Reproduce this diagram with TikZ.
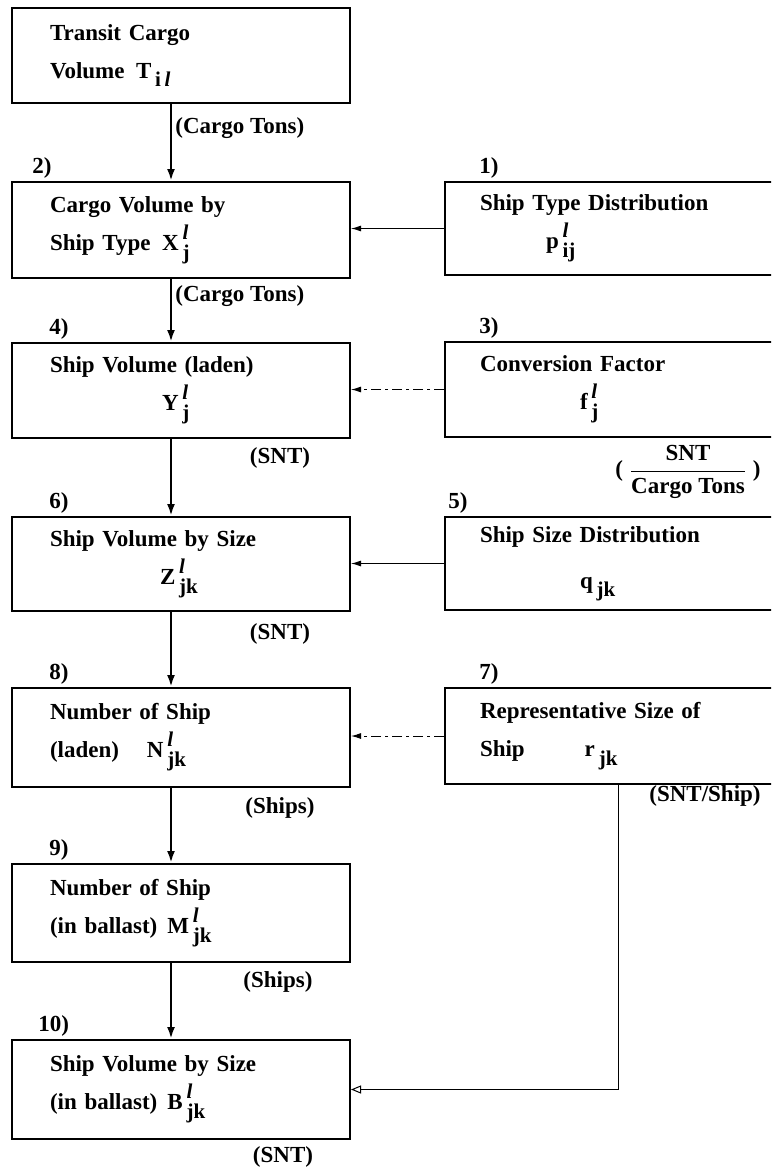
\documentclass[tikz,border=0pt]{standalone}
\usepackage{fontspec}
\setmainfont{Liberation Serif}
\usetikzlibrary{arrows.meta,positioning}

\newcommand{\scrsz}{\fontsize{10.5}{10.5}\selectfont}
\newcommand{\lj}[1]{\,\makebox[0pt][l]{\raisebox{1.05ex}{\scrsz\textit{l}}}\raisebox{-0.85ex}{\scrsz #1}}
\newcommand{\sj}[1]{\,\raisebox{-0.8ex}{\scrsz #1}}

\begin{document}
\begin{tikzpicture}[x=0.5pt,y=-0.5pt,
  every node/.style={font=\bfseries\fontsize{11.5}{19}\selectfont},
  lbox/.style={draw, line width=1pt, minimum width=169pt, text width=131pt, inner xsep=19pt, align=left},
  rbox/.style={draw, line width=1pt, minimum width=177.5pt, text width=142.5pt, inner xsep=17.5pt, align=left},
  num/.style={anchor=base west, inner sep=0pt},
  unit/.style={inner sep=1pt},
  flow/.style={line width=1.2pt, -{Latex[length=6pt,width=4pt]}},
  feed/.style={line width=0.5pt, -{Latex[length=5pt,width=3pt]}},
  feeddash/.style={feed, dash pattern=on 5pt off 2pt on 1.5pt off 2pt}]

\useasboundingbox (0,0) rectangle (771,1167);
\clip (0,0) rectangle (771,1167);

% Left column
\node[lbox, minimum height=47.5pt] (T) at (181,55.5) {Transit Cargo\\Volume \,T\sj{i\,\textit{l}}};
\node[lbox, minimum height=48pt] (X) at (181,230) {Cargo Volume by\\Ship Type \,X\lj{j}};
\node[lbox, minimum height=47.5pt] (Y) at (181,390.5) {Ship Volume (laden)\\\hspace*{56pt}Y\lj{j}};
\node[lbox, minimum height=47pt] (Z) at (181,564) {Ship Volume by Size\\\hspace*{55pt}Z\lj{jk}};
\node[lbox, minimum height=49.5pt] (N) at (181,737.5) {Number of Ship\\(laden)\hspace{14pt}N\lj{jk}};
\node[lbox, minimum height=49pt] (M) at (181,913) {Number of Ship\\(in ballast)\hspace{5pt}M\lj{jk}};
\node[lbox, minimum height=49.5pt] (B) at (181,1089.5) {Ship Volume by Size\\(in ballast)\hspace{5pt}B\lj{jk}};

% Right column
\node[rbox, minimum height=46.5pt] (p) at (622.5,228.5) {Ship Type Distribution\\\hspace*{33pt}p\lj{ij}};
\node[rbox, minimum height=47.5pt] (f) at (622.5,389.5) {Conversion Factor\\\hspace*{50pt}f\lj{j}};
\node[rbox, minimum height=46.5pt] (q) at (622.5,563.5) {Ship Size Distribution\\[4pt]\hspace*{50pt}q\sj{jk}};
\node[rbox, minimum height=48pt] (r) at (622.5,736) {Representative Size of\\Ship\hspace{30pt}r\sj{jk}};

% Step numbers
\node[num] (n1) at ([xshift=17.5pt,yshift=4pt]p.north west) {1)};
\node[num] (n2) at ([xshift=10.5pt,yshift=4pt]X.north west) {2)};
\node[num] (n3) at ([xshift=17.5pt,yshift=4pt]f.north west) {3)};
\node[num] (n4) at ([xshift=19pt,yshift=4pt]Y.north west) {4)};
\node[num] (n5) at ([xshift=2pt,yshift=4pt]q.north west) {5)};
\node[num] (n6) at ([xshift=19pt,yshift=4pt]Z.north west) {6)};
\node[num] (n7) at ([xshift=17.5pt,yshift=4pt]r.north west) {7)};
\node[num] (n8) at ([xshift=19pt,yshift=4pt]N.north west) {8)};
\node[num] (n9) at ([xshift=19pt,yshift=4pt]M.north west) {9)};
\node[num] (n10) at ([xshift=13.5pt,yshift=4pt]B.north west) {10)};

% Main flow
\draw[flow] ([xshift=-5pt]T.south) -- ([xshift=-5pt]X.north);
\draw[flow] ([xshift=-5pt]X.south) -- ([xshift=-5pt]Y.north);
\draw[flow] ([xshift=-5pt]Y.south) -- ([xshift=-5pt]Z.north);
\draw[flow] ([xshift=-5pt]Z.south) -- ([xshift=-5pt]N.north);
\draw[flow] ([xshift=-5pt]N.south) -- ([xshift=-5pt]M.north);
\draw[flow] ([xshift=-5pt]M.south) -- ([xshift=-5pt]B.north);

% Inputs
\draw[feed] (p.west) -- (p.west -| X.east);
\draw[feeddash] (f.west) -- (f.west -| Y.east);
\draw[feed] (q.west) -- (q.west -| Z.east);
\draw[feeddash] (r.west) -- (r.west -| N.east);
\draw[line width=0.5pt, -{Triangle[open,length=5pt,width=4pt]}] ([xshift=-2pt]r.south) |- (B.east);

% Units
\node[unit, anchor=west] (u1) at (173,128) {(Cargo Tons)};
\node[unit, anchor=west] (u2) at (173,296) {(Cargo Tons)};
\node[unit] (u3) at (688,472) {( $\displaystyle\frac{\textbf{SNT}}{\textbf{Cargo Tons}}$ )};
\node[unit] (u4) at (280,458) {(SNT)};
\node[unit] (u6) at (280,634) {(SNT)};
\node[unit] (u7) at (705,796) {(SNT/Ship)};
\node[unit] (u8) at (280,808) {(Ships)};
\node[unit] (u9) at (278,982) {(Ships)};
\node[unit] (u10) at (283,1157) {(SNT)};

\end{tikzpicture}
\end{document}
